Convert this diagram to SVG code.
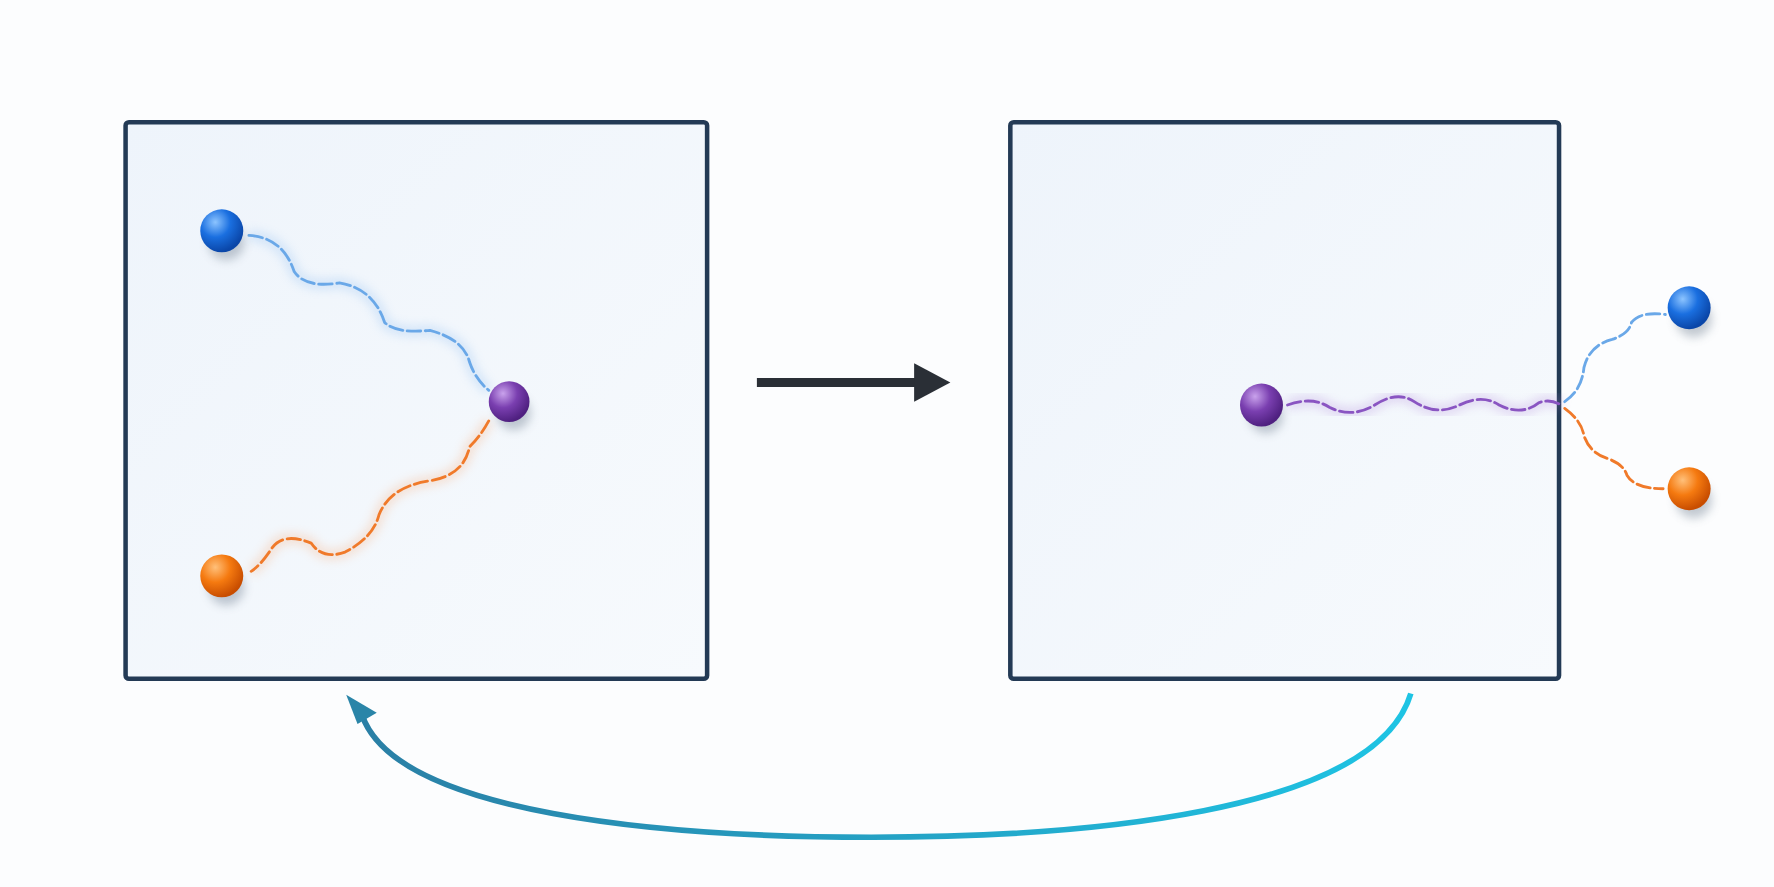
<svg xmlns="http://www.w3.org/2000/svg" width="1774" height="887" viewBox="0 0 1774 887">
<defs>
<linearGradient id="bg" x1="0" y1="0" x2="1" y2="1"><stop offset="0" stop-color="#eef4fb"/><stop offset="1" stop-color="#f7fafd"/></linearGradient>
<radialGradient id="gb" cx="0.35" cy="0.3" r="0.7"><stop offset="0" stop-color="#8cc4ff"/><stop offset="0.5" stop-color="#1a6fe0"/><stop offset="1" stop-color="#0a46a8"/></radialGradient>
<radialGradient id="go" cx="0.35" cy="0.3" r="0.7"><stop offset="0" stop-color="#ffc07a"/><stop offset="0.5" stop-color="#f57a10"/><stop offset="1" stop-color="#c84d00"/></radialGradient>
<radialGradient id="gp" cx="0.35" cy="0.3" r="0.7"><stop offset="0" stop-color="#c9a2ec"/><stop offset="0.5" stop-color="#7a3fb0"/><stop offset="1" stop-color="#4f2080"/></radialGradient>
<linearGradient id="ga" x1="0" y1="0" x2="1" y2="0"><stop offset="0" stop-color="#2a7fa5"/><stop offset="1" stop-color="#1ec4e4"/></linearGradient>
<filter id="sh" x="-1" y="-1" width="3" height="3"><feGaussianBlur stdDeviation="4"/></filter>
<filter id="glow" x="-0.2" y="-0.2" width="1.4" height="1.4"><feGaussianBlur stdDeviation="4"/></filter>
</defs>
<style>
.box{fill:url(#bg);stroke:#233a55;stroke-width:4}
.w{fill:none;stroke-width:2.5;stroke-dasharray:12 4;stroke-linecap:round}
.h{fill:none;stroke-width:10;opacity:0.25;filter:url(#glow)}
.s{fill:#7a8899;opacity:0.45;filter:url(#sh)}
</style>
<rect width="1774" height="887" fill="#fcfdfe"/>
<g transform="scale(1.13138)">
<g id="box1"><rect class="box" x="111" y="108" width="514" height="492" rx="3"/></g>
<g id="box2"><rect class="box" x="893" y="108" width="485" height="492" rx="3"/></g>
<g id="connectors">
<path class="h" stroke="#7fb4ee" d="M220,208 Q250,210 260,240 Q270,255 300,250 Q330,255 340,285 Q350,295 380,292 Q410,300 415,320 Q420,335 432,345"/>
<path class="w" stroke="#6aa8e8" d="M220,208 Q250,210 260,240 Q270,255 300,250 Q330,255 340,285 Q350,295 380,292 Q410,300 415,320 Q420,335 432,345"/>
<path class="h" stroke="#f6a068" d="M432,372 Q425,385 415,395 Q410,420 380,425 Q345,430 335,455 Q330,475 305,488 Q285,495 275,480 Q250,470 240,485 Q230,500 222,505"/>
<path class="w" stroke="#f07a2a" d="M432,372 Q425,385 415,395 Q410,420 380,425 Q345,430 335,455 Q330,475 305,488 Q285,495 275,480 Q250,470 240,485 Q230,500 222,505"/>
<path class="h" stroke="#a87cd6" d="M1138,358 Q1160,350 1175,360 Q1195,370 1215,358 Q1235,345 1250,355 Q1270,368 1290,358 Q1310,348 1325,358 Q1345,368 1360,356 Q1370,352 1380,358"/>
<path class="w" stroke="#8a55c2" d="M1138,358 Q1160,350 1175,360 Q1195,370 1215,358 Q1235,345 1250,355 Q1270,368 1290,358 Q1310,348 1325,358 Q1345,368 1360,356 Q1370,352 1380,358"/>
<path class="w" stroke="#6aa8e8" d="M1383,355 Q1398,345 1400,325 Q1405,305 1425,300 Q1440,295 1442,285 Q1450,275 1472,278"/>
<path class="w" stroke="#f07a2a" d="M1383,361 Q1398,372 1400,385 Q1405,400 1420,405 Q1435,410 1438,420 Q1445,432 1470,432"/>
<line x1="669" y1="338" x2="815" y2="338" stroke="#2a2f36" stroke-width="8"/>
<polygon points="808,321 840,338 808,355" fill="#2a2f36"/>
<path d="M1247,613 C1215,720 950,740 770,740 C590,740 350,720 320,632" fill="none" stroke="url(#ga)" stroke-width="5"/>
<polygon points="306,614 333,630 316,640" fill="#2a85a8"/>
</g>
<g id="ball-blue-1"><circle class="s" cx="200" cy="214" r="16"/><circle cx="196" cy="204" r="19" fill="url(#gb)"/></g>
<g id="ball-purple-1"><circle class="s" cx="454" cy="365" r="15"/><circle cx="450" cy="355" r="18" fill="url(#gp)"/></g>
<g id="ball-orange-1"><circle class="s" cx="200" cy="519" r="16"/><circle cx="196" cy="509" r="19" fill="url(#go)"/></g>
<g id="ball-purple-2"><circle class="s" cx="1119" cy="368" r="15"/><circle cx="1115" cy="358" r="19" fill="url(#gp)"/></g>
<g id="ball-blue-2"><circle class="s" cx="1497" cy="282" r="16"/><circle cx="1493" cy="272" r="19" fill="url(#gb)"/></g>
<g id="ball-orange-2"><circle class="s" cx="1497" cy="442" r="16"/><circle cx="1493" cy="432" r="19" fill="url(#go)"/></g>
</g>
</svg>
